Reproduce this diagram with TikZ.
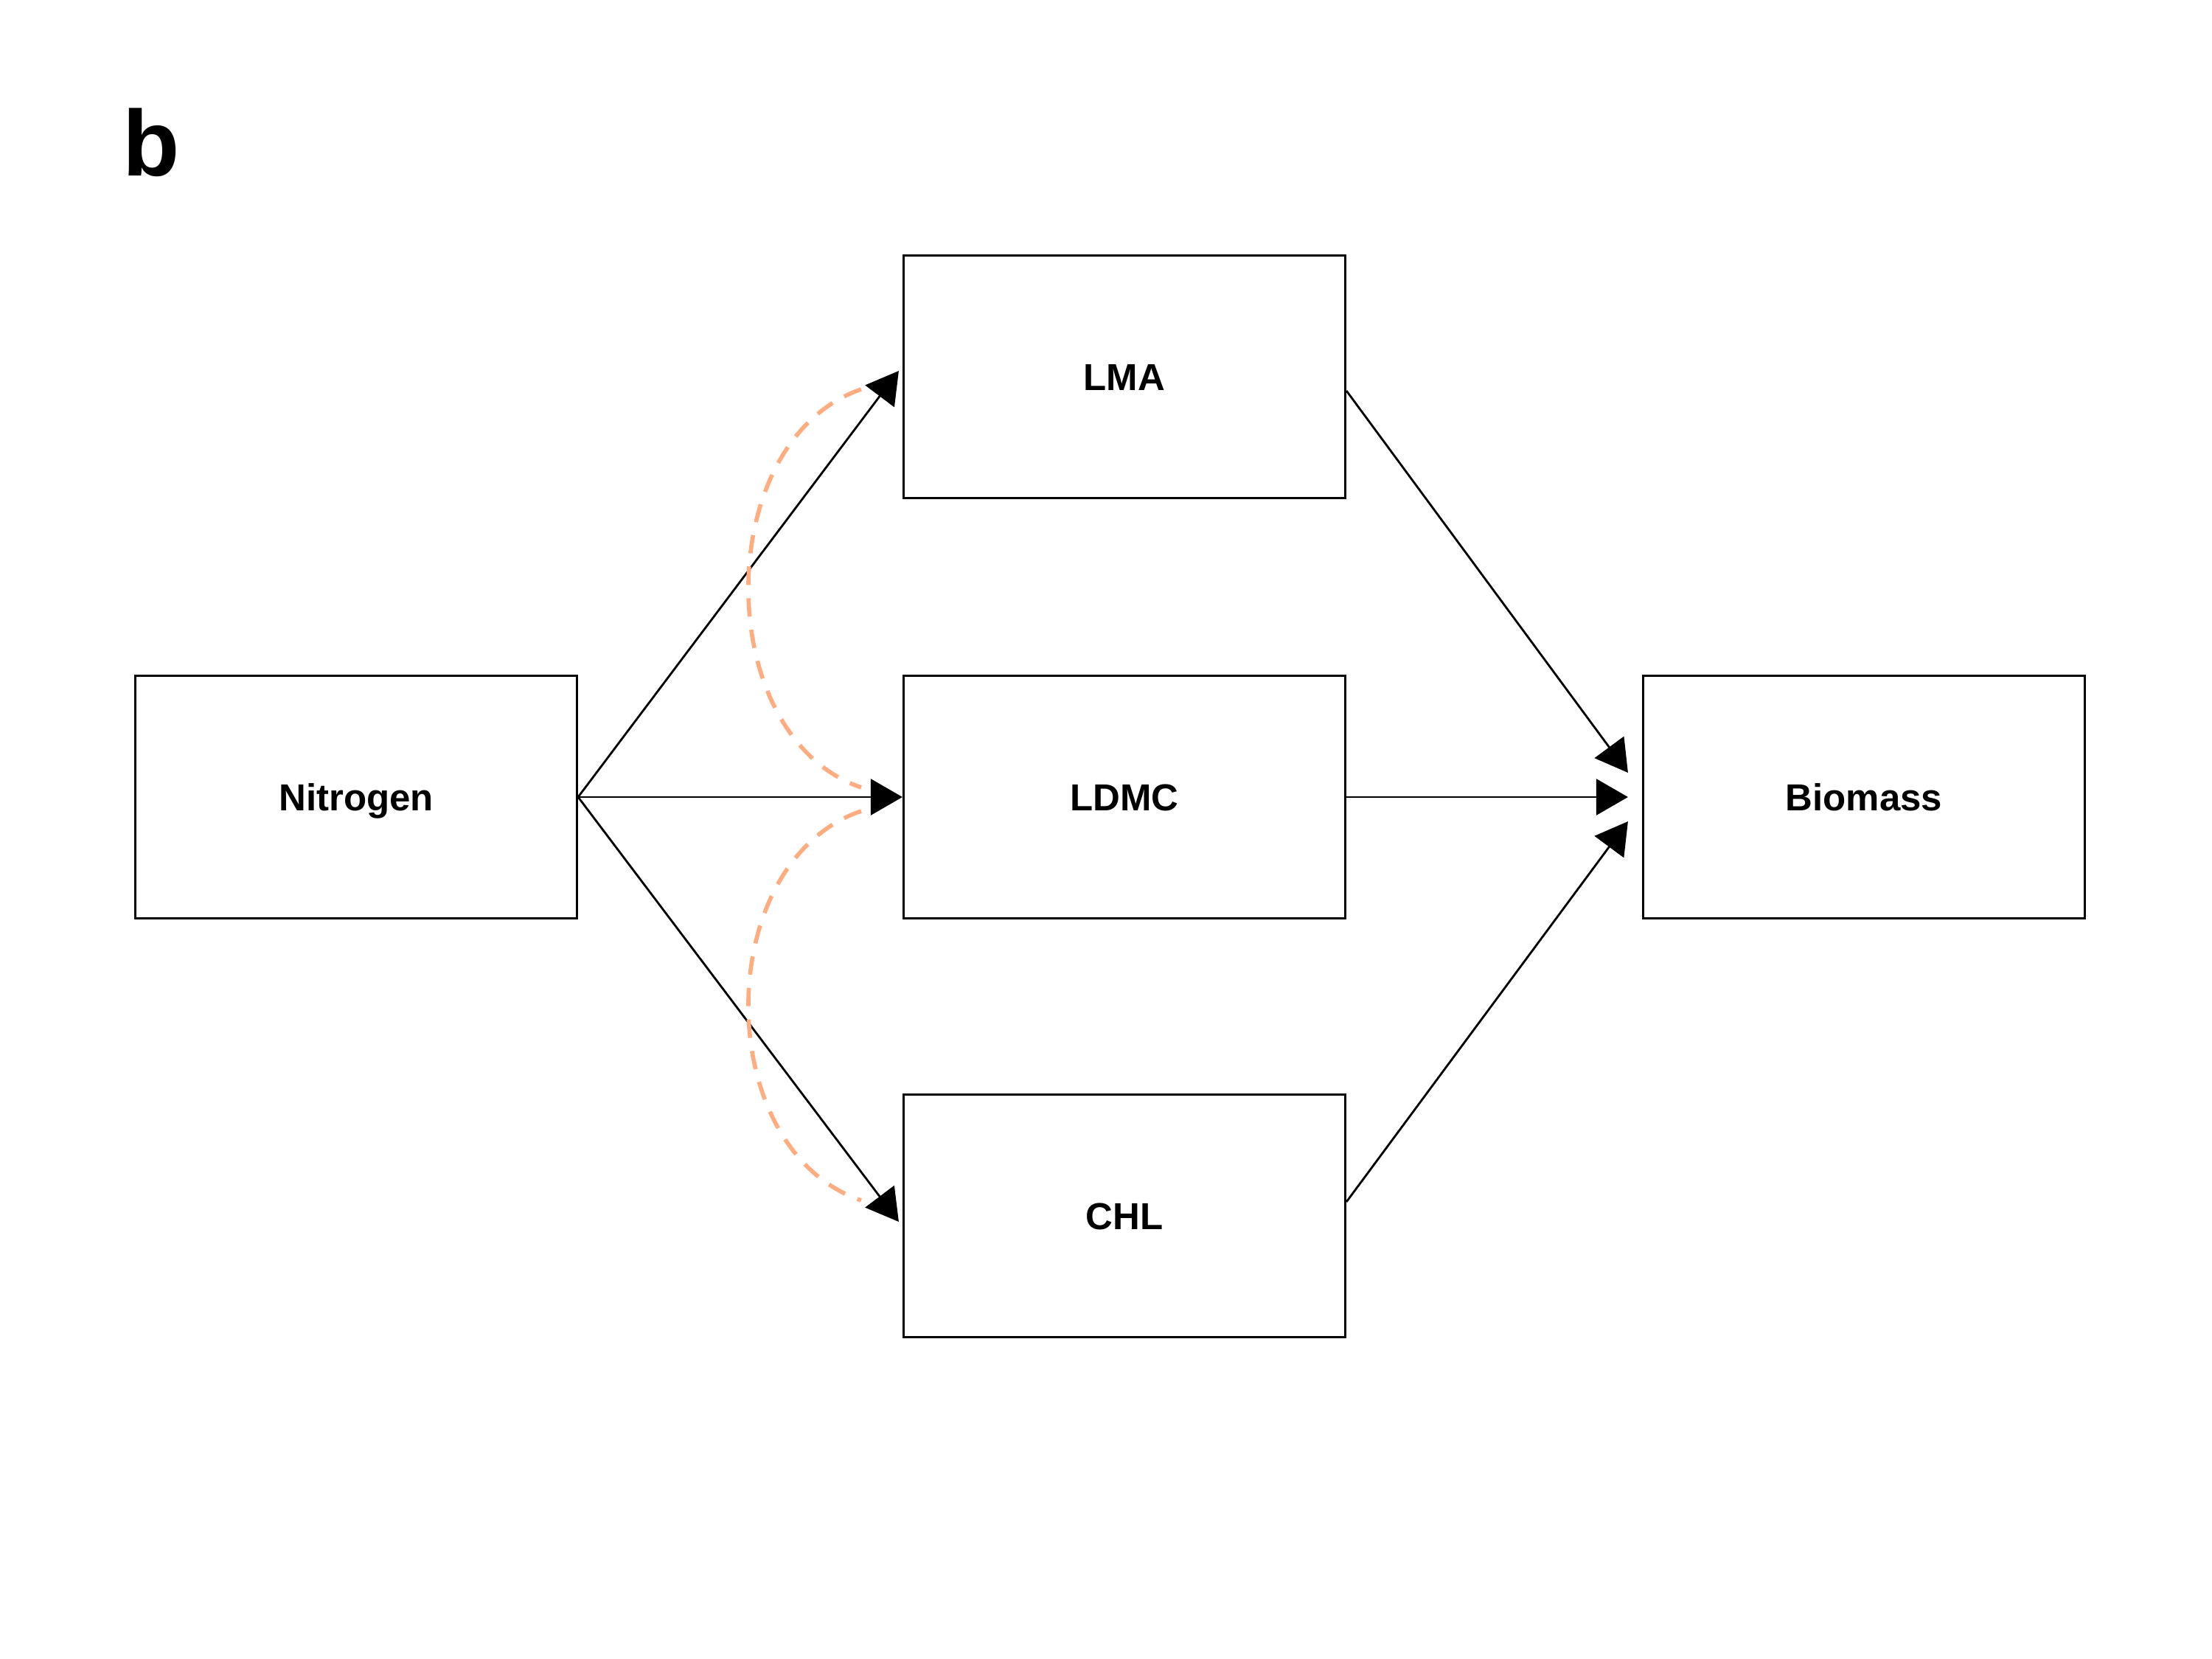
\documentclass[tikz,border=0pt]{standalone}
\usepackage{fontspec}
\setmainfont{Liberation Sans}
\usetikzlibrary{arrows.meta}
\definecolor{corr}{RGB}{255,172,128}
\begin{document}
\begin{tikzpicture}
\useasboundingbox (0,0) rectangle (30,-22.5);
\tikzset{
  varbox/.style={draw, line width=0.9pt, minimum width=5.99cm, minimum height=3.29cm, inner sep=0pt, text height=10.4pt, text depth=0pt, font=\fontsize{14.5pt}{17pt}\selectfont\bfseries},
  path/.style={line width=0.8pt, -{Triangle[length=0.43cm,width=0.49cm]}},
  covar/.style={draw=corr, line width=1.6pt, dash pattern=on 0.25cm off 0.18cm}
}
\node[anchor=base west, inner sep=0pt, font=\fontsize{36pt}{40pt}\selectfont\bfseries] (lbl) at (1.66,-2.39) {b};
\node[varbox] (N) at (4.83,-10.81) {Nitrogen};
\node[varbox] (LMA) at (15.25,-5.11) {LMA};
\node[varbox] (LDMC) at (15.25,-10.81) {LDMC};
\node[varbox] (CHL) at (15.25,-16.49) {CHL};
\node[varbox] (B) at (25.28,-10.81) {Biomass};
\coordinate (h1) at ([xshift=-0.05cm,yshift=0.08cm]LMA.west);
\coordinate (h3) at ([xshift=-0.05cm,yshift=-0.08cm]CHL.west);
\draw[path] (N.east) -- (h1);
\draw[path] (N.east) -- (LDMC.west);
\draw[path] (N.east) -- (h3);
\coordinate (e1) at ([yshift=-0.19cm]LMA.east);
\coordinate (e3) at ([yshift=0.19cm]CHL.east);
\coordinate (t1) at ([xshift=-0.19cm,yshift=0.33cm]B.west);
\coordinate (t2) at ([xshift=-0.19cm]B.west);
\coordinate (t3) at ([xshift=-0.19cm,yshift=-0.33cm]B.west);
\draw[path] (e1) -- (t1);
\draw[path] (LDMC.east) -- (t2);
\draw[path] (e3) -- (t3);
\coordinate (c1a) at ([xshift=-0.56cm,yshift=-0.17cm]LMA.west);
\coordinate (c1b) at ([xshift=-0.56cm,yshift=0.13cm]LDMC.west);
\coordinate (c2a) at ([xshift=-0.56cm,yshift=-0.19cm]LDMC.west);
\coordinate (c2b) at ([xshift=-0.56cm,yshift=0.21cm]CHL.west);
\draw[covar] (c1a) .. controls ([xshift=-2.04cm,yshift=-0.7cm]c1a) and ([xshift=-2.04cm,yshift=0.7cm]c1b) .. (c1b);
\draw[covar] (c2a) .. controls ([xshift=-2.04cm,yshift=-0.7cm]c2a) and ([xshift=-2.04cm,yshift=0.7cm]c2b) .. (c2b);
\end{tikzpicture}
\end{document}
